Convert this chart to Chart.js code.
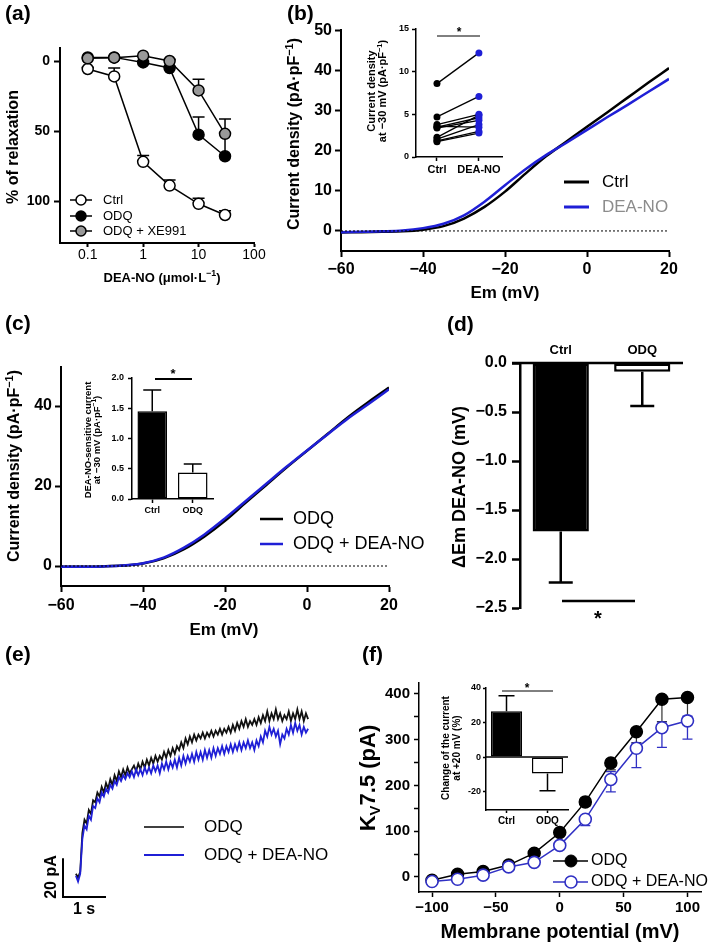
<!DOCTYPE html>
<html>
<head>
<meta charset="utf-8">
<script src="https://cdn.jsdelivr.net/npm/chart.js@4.4.0/dist/chart.umd.min.js"></script>
<style>
  html, body { margin: 0; padding: 0; background: #fff; }
  #wrap { position: relative; width: 709px; height: 946px; overflow: hidden; }
  #wrap canvas { position: absolute; left: 0; top: 0; }
</style>
</head>
<body>
<div id="wrap"></div>
<script>
// (a) concentration-response
const concA = [0.1, 0.3, 1, 3, 10, 30];
const relaxCtrl = [5.7, 11, 72, 89, 102, 110];
const relaxCtrlSem = [1, 6, 4.5, 4, 4, 3];
const relaxOdq = [-2.5, -2.6, 1, 5, 52.6, 68];
const relaxOdqSem = [0, 0, 1, 1, 12.6, 16];
const relaxXe = [-1.9, -2.4, -3.8, 0, 21, 52];
const relaxXeSem = [0, 0, 0, 1, 8, 10.5];

// (b) I-V, ctrl vs DEA-NO
const emSteps = [-60, -55, -50, -45, -40, -35, -30, -25, -20, -15, -10, -5, 0, 5, 10, 15, 20];
const ivCtrl = [-0.4, -0.3, -0.2, -0.1, 0.3, 1.2, 3.1, 6.0, 9.8, 14.3, 18.6, 22.3, 26.0, 29.6, 33.3, 37.0, 40.6];
const ivDea = [-0.3, -0.2, -0.1, 0.1, 0.7, 1.8, 3.9, 7.3, 11.4, 15.4, 18.9, 22.0, 25.2, 28.4, 31.5, 34.7, 37.9];
const pairGroups = ['Ctrl', 'DEA-NO'];
const pairCtrl = [8.6, 4.7, 3.8, 3.6, 3.5, 3.4, 2.3, 2.1, 1.9, 1.8];
const pairDea = [12.2, 7.1, 5.0, 3.5, 4.6, 4.3, 4.9, 3.8, 3.0, 2.8];

// (c) I-V with ODQ
const ivOdq = [-0.2, -0.2, -0.1, 0.1, 0.6, 1.9, 4.2, 7.4, 11.3, 15.8, 20.2, 24.6, 28.8, 33.0, 37.2, 41.0, 44.6];
const ivOdqDea = [-0.2, -0.2, -0.1, 0.1, 0.7, 2.1, 4.6, 7.9, 11.9, 16.2, 20.5, 24.8, 28.9, 32.9, 36.9, 40.5, 44.2];
const groupsC = ['Ctrl', 'ODQ'];
const noSensitive = [1.45, 0.44];
const noSensitiveSem = [0.35, 0.14];

// (d) membrane potential change
const groupsD = ['Ctrl', 'ODQ'];
const dEm = [-1.72, -0.09];
const dEmSem = [0.52, 0.35];

// (e) current traces (s, pA)
const traceT = [0.30,0.35,0.40,0.45,0.50,0.55,0.60,0.65,0.70,0.75,0.80,0.85,0.90,0.95,1.00,1.05,1.10,1.15,1.20,1.25,
  1.30,1.35,1.40,1.45,1.50,1.55,1.60,1.65,1.70,1.75,1.80,1.85,1.90,1.95,2.00,2.05,2.10,2.15,2.20,2.25,
  2.30,2.35,2.40,2.45,2.50,2.55,2.60,2.65,2.70,2.75,2.80,2.85,2.90,2.95,3.00,3.05,3.10,3.15,3.20,3.25,
  3.30,3.35,3.40,3.45,3.50,3.55,3.60,3.65,3.70,3.75,3.80,3.85,3.90,3.95,4.00,4.05,4.10,4.15,4.20,4.25,
  4.30,4.35,4.40,4.45,4.50,4.55,4.60,4.65,4.70,4.75,4.80,4.85,4.90,4.95,5.00,5.05,5.10,5.15,5.20,5.25,
  5.30,5.35,5.40,5.45,5.50,5.55,5.60,5.65,5.70];
const traceOdq = [12,10,13,33,40,38,45,43,50,49, 54,52,57,54,59,56,61,58,63,60,
  65,62,66,63,67,64,66,68,65,69, 66,70,67,71,68,72,69,73,70,73,
  71,75,72,76,73,77,74,78,76,80, 77,82,79,83,80,84,81,84,82,85,
  82,85,83,86,83,86,84,87,84,87, 85,88,85,89,86,90,87,91,88,92,
  88,91,89,92,89,93,90,94,91,96, 91,95,92,97,92,95,91,94,92,96,
  91,95,92,97,92,96,91,95,92];
const traceOdqDea = [11,8,12,30,37,35,42,40,47,46, 51,49,54,52,56,54,58,56,60,58,
  62,60,63,61,64,62,65,62,66,63, 66,63,67,64,67,64,68,65,68,64,
  69,66,70,66,70,67,71,67,72,68, 73,69,73,70,74,70,75,71,75,71,
  76,72,76,72,77,73,77,74,78,74, 78,75,79,75,79,76,80,76,80,77,
  81,77,80,76,81,78,83,80,86,83, 88,84,87,83,86,79,84,82,87,84,
  89,85,90,86,89,84,88,85,87];

// (f) Kv7.5 I-V
const vmF = [-100, -80, -60, -40, -20, 0, 20, 40, 60, 80, 100];
const kvOdq = [-7, 6, 12, 26, 52, 97, 164, 249, 317, 388, 392];
const kvOdqSemLo = [4, 4, 4, 4, 5, 6, 10, 15, 24, 49, 46];
const kvDea = [-10, -5, 4, 22, 32, 69, 126, 213, 281, 326, 341];
const kvDeaSemHi = [4, 4, 4, 4, 4, 6, 8, 17, 12, 13, 10];
const kvDeaSemLo = [4, 4, 4, 4, 4, 6, 14, 27, 42, 43, 40];
const groupsF = ['Ctrl', 'ODQ'];
const changeF = [26.5, -9.5];
const changeFSemHi = [9, 0];
const changeFSemLo = [0, 10];

const W = 709, H = 946;
const FONT = '"Liberation Sans", Arial, Helvetica, sans-serif';
const BLUE = '#1f1fd6';
const BLUE_F = '#3030c4';
Chart.defaults.font.family = FONT;
Chart.defaults.color = '#000';
Chart.defaults.animation = false;
Chart.defaults.events = [];
Chart.defaults.plugins.legend.display = false;
Chart.defaults.plugins.tooltip.enabled = false;

const wrap = document.getElementById('wrap');
const minus = v => (typeof v === 'number' && v < 0 ? '\u2212' + Math.abs(v) : String(v));

// chart area in page px -> layout padding (every canvas covers the page)
function box(l, t, r, b, yw, xh) {
  return { left: l - yw, top: t, right: W - r, bottom: H - b - xh };
}

function axis(o) {
  return {
    type: o.type || 'linear',
    min: o.min, max: o.max, reverse: !!o.reverse,
    afterFit: s => { if (s.isHorizontal()) s.height = o.size; else s.width = o.size; },
    afterBuildTicks: o.at ? s => { s.ticks = o.at.map(v => ({ value: v })); } : undefined,
    ticks: {
      autoSkip: false, maxRotation: 0, color: '#000', padding: o.pad ?? 3,
      font: { size: o.font, weight: o.weight || 'bold' },
      callback: o.fmt || (v => minus(v))
    },
    grid: { drawOnChartArea: false, drawTicks: true, tickLength: o.tick ?? 6, tickWidth: o.lw ?? 2, tickColor: '#000', offset: false },
    border: { display: true, color: '#000', width: o.lw ?? 2 }
  };
}
const catLabel = function (v) { return this.getLabelForValue(v); };

function drawErrors(chart, opts) {
  const ctx = chart.ctx, y = chart.scales.y;
  chart.data.datasets.forEach((ds, i) => {
    if (!ds.errLo && !ds.errHi) return;
    const meta = chart.getDatasetMeta(i);
    ctx.save();
    ctx.strokeStyle = ds.errColor || '#000';
    ctx.lineWidth = ds.errWidth || 1.5;
    const cap = ds.errCap || opts.cap || 5;
    meta.data.forEach((el, j) => {
      const v = ds.data[j], px = el.x, py = y.getPixelForValue(v);
      [[ds.errHi, 1], [ds.errLo, -1]].forEach(([arr, sgn]) => {
        if (!arr || !arr[j]) return;
        const ey = y.getPixelForValue(v + sgn * arr[j]);
        ctx.beginPath();
        ctx.moveTo(px, py); ctx.lineTo(px, ey);
        ctx.moveTo(px - cap, ey); ctx.lineTo(px + cap, ey);
        ctx.stroke();
      });
    });
    ctx.restore();
  });
}
const errorBars = {
  id: 'errorBars',
  beforeDatasetsDraw(chart, args, opts) { if (!opts.after) drawErrors(chart, opts); },
  afterDatasetsDraw(chart, args, opts) { if (opts.after) drawErrors(chart, opts); }
};

// text with optional sup/sub parts: parts = ['abc', ['-1', 'sup']]
function txt(ctx, parts, x, y, size, o = {}) {
  const segs = (Array.isArray(parts) ? parts : [parts]).map(p => Array.isArray(p) ? { t: p[0], k: p[1] } : { t: p });
  const wt = o.bold === false ? '' : 'bold ';
  let total = 0;
  segs.forEach(s => {
    s.fs = s.k ? size * 0.68 : size;
    ctx.font = `${wt}${s.fs}px ${FONT}`;
    s.w = ctx.measureText(s.t).width;
    total += s.w;
  });
  ctx.save();
  ctx.translate(x, y);
  if (o.rot) ctx.rotate(-Math.PI / 2);
  ctx.fillStyle = o.color || '#000';
  ctx.textBaseline = 'middle';
  ctx.textAlign = 'left';
  let cx = o.align === 'left' ? 0 : -total / 2;
  segs.forEach(s => {
    ctx.font = `${wt}${s.fs}px ${FONT}`;
    const dy = s.k === 'sup' ? -size * 0.32 : s.k === 'sub' ? size * 0.3 : 0;
    ctx.fillText(s.t, cx, dy);
    cx += s.w;
  });
  ctx.restore();
}
function seg(ctx, x0, y0, x1, y1, lw, color, dash) {
  ctx.save();
  ctx.strokeStyle = color || '#000';
  ctx.lineWidth = lw;
  if (dash) ctx.setLineDash(dash);
  ctx.beginPath(); ctx.moveTo(x0, y0); ctx.lineTo(x1, y1); ctx.stroke();
  ctx.restore();
}
function dot(ctx, x, y, r, fill, stroke, lw) {
  ctx.save();
  ctx.beginPath(); ctx.arc(x, y, r, 0, Math.PI * 2);
  ctx.fillStyle = fill; ctx.fill();
  ctx.lineWidth = lw; ctx.strokeStyle = stroke; ctx.stroke();
  ctx.restore();
}
const pA_pF = ['(pA\u00b7pF', ['\u22121', 'sup'], ')'];

function make(cfg, decor) {
  const c = document.createElement('canvas');
  c.width = W; c.height = H;
  wrap.appendChild(c);
  cfg.options.responsive = false;
  cfg.plugins = [errorBars, { id: 'decor', afterDraw: ch => decor && decor(ch.ctx, ch) }];
  return new Chart(c, cfg);
}

// ---------- (a) ----------
const pointA = { borderColor: '#000', borderWidth: 1.5, pointBorderColor: '#000', pointBorderWidth: 1.5, pointRadius: 5.5 };
make({
  type: 'line',
  data: {
    labels: concA,
    datasets: [
      { ...pointA, label: 'Ctrl', data: relaxCtrl, errLo: relaxCtrlSem, pointBackgroundColor: '#fff', order: 3 },
      { ...pointA, label: 'ODQ', data: relaxOdq, errLo: relaxOdqSem, pointBackgroundColor: '#000', order: 2 },
      { ...pointA, label: 'ODQ + XE991', data: relaxXe, errLo: relaxXeSem, pointBackgroundColor: '#999', order: 1 }
    ]
  },
  options: {
    layout: { padding: box(60, 48, 254, 243, 50, 30) },
    scales: {
      x: axis({ type: 'logarithmic', min: 0.0316, max: 100, at: [0.1, 1, 10, 100], size: 30, font: 14, weight: 'normal', tick: 4, pad: 0, fmt: v => String(v) }),
      y: axis({ min: -9.3, max: 130, reverse: true, at: [0, 50, 100], size: 50, font: 14, tick: 6, pad: 4 })
    },
    plugins: { errorBars: { cap: 6 } }
  }
}, (ctx, ch) => {
  txt(ctx, '(a)', 5, 14, 21, { align: 'left' });
  txt(ctx, '% of relaxation', 14, 147, 16, { rot: true });
  txt(ctx, ['DEA-NO (\u03bcmol\u00b7L', ['\u22121', 'sup'], ')'], 162, 278, 13);
  [200, 216, 231].forEach((y, i) => {
    const ds = ch.data.datasets[i];
    seg(ctx, 70, y, 92, y, 1.5);
    dot(ctx, 81, y, 5, ds.pointBackgroundColor, '#000', 1.5);
    txt(ctx, ds.label, 103, y, 13, { bold: false, align: 'left' });
  });
});

// ---------- (b) ----------
make({
  type: 'line',
  data: {
    labels: emSteps,
    datasets: [
      { label: 'DEA-NO', data: ivDea, borderColor: BLUE, borderWidth: 2.5, pointRadius: 0, cubicInterpolationMode: 'monotone', order: 1 },
      { label: 'Ctrl', data: ivCtrl, borderColor: '#000', borderWidth: 2.5, pointRadius: 0, cubicInterpolationMode: 'monotone', order: 2 }
    ]
  },
  options: {
    layout: { padding: box(341, 30, 669, 251, 45, 30) },
    scales: {
      x: axis({ min: -60, max: 20, at: [-60, -40, -20, 0, 20], size: 30, font: 16, tick: 6, pad: 3 }),
      y: axis({ min: -5, max: 50.1, at: [0, 10, 20, 30, 40, 50], size: 45, font: 16, tick: 6, pad: 3 })
    }
  }
}, (ctx, ch) => {
  const y0 = ch.scales.y.getPixelForValue(0);
  seg(ctx, ch.chartArea.left, y0, ch.chartArea.right, y0, 1, '#000', [2, 2]);
  txt(ctx, '(b)', 287, 14, 21, { align: 'left' });
  txt(ctx, ['Current density ', ...pA_pF], 295, 134, 16, { rot: true });
  txt(ctx, 'Em (mV)', 505, 293, 17);
  seg(ctx, 564, 182, 589, 182, 3, '#000');
  txt(ctx, 'Ctrl', 602, 182, 17, { bold: false, align: 'left' });
  seg(ctx, 564, 207, 589, 207, 3, BLUE);
  txt(ctx, 'DEA-NO', 602, 207, 17, { bold: false, align: 'left', color: '#8c8c8c' });
});

// (b) inset: paired cells
make({
  type: 'line',
  data: {
    labels: [0, 1],
    datasets: pairCtrl.map((c, i) => ({
      data: [c, pairDea[i]], borderColor: '#000', borderWidth: 1.3, pointRadius: 3.5,
      pointBackgroundColor: ['#000', BLUE], pointBorderColor: ['#000', BLUE], pointBorderWidth: 0
    }))
  },
  options: {
    layout: { padding: box(416, 29, 502, 157, 30, 20) },
    scales: {
      x: axis({ min: -0.5, max: 1.55, at: [0, 1], size: 20, font: 11, tick: 4, pad: 2, lw: 1.5, fmt: v => pairGroups[v] }),
      y: axis({ min: 0, max: 15, at: [0, 5, 10, 15], size: 30, font: 9, tick: 4, pad: 3, lw: 1.5 })
    }
  }
}, ctx => {
  txt(ctx, 'Current density', 372, 91, 11, { rot: true });
  txt(ctx, ['at \u221230 mV ', ...pA_pF], 383, 91, 11, { rot: true });
  seg(ctx, 437, 36, 480, 36, 1);
  txt(ctx, '*', 459, 33, 12);
});

// ---------- (c) ----------
make({
  type: 'line',
  data: {
    labels: emSteps,
    datasets: [
      { label: 'ODQ + DEA-NO', data: ivOdqDea, borderColor: BLUE, borderWidth: 2.5, pointRadius: 0, cubicInterpolationMode: 'monotone', order: 1 },
      { label: 'ODQ', data: ivOdq, borderColor: '#000', borderWidth: 2.5, pointRadius: 0, cubicInterpolationMode: 'monotone', order: 2 }
    ]
  },
  options: {
    layout: { padding: box(61, 367, 389, 586, 45, 30) },
    scales: {
      x: axis({ min: -60, max: 20, at: [-60, -40, -20, 0, 20], size: 30, font: 16, tick: 6, pad: 4, fmt: v => (v === -20 ? '-20' : minus(v)) }),
      y: axis({ min: -5, max: 49.75, at: [0, 20, 40], size: 45, font: 16, tick: 6, pad: 3 })
    }
  }
}, (ctx, ch) => {
  const y0 = ch.scales.y.getPixelForValue(0);
  seg(ctx, ch.chartArea.left, y0, ch.chartArea.right, y0, 1, '#000', [2, 2]);
  txt(ctx, '(c)', 5, 324, 21, { align: 'left' });
  txt(ctx, ['Current density ', ...pA_pF], 15, 466, 16, { rot: true });
  txt(ctx, 'Em (mV)', 224, 630, 17);
  seg(ctx, 260, 519, 283, 519, 2.5, '#000');
  txt(ctx, 'ODQ', 293, 519, 18, { bold: false, align: 'left' });
  seg(ctx, 260, 544, 283, 544, 2.5, BLUE);
  txt(ctx, 'ODQ + DEA-NO', 293, 544, 18, { bold: false, align: 'left' });
});

// (c) inset: DEA-NO-sensitive current
make({
  type: 'bar',
  data: {
    labels: groupsC,
    datasets: [{ data: noSensitive, errHi: noSensitiveSem, backgroundColor: ['#000', '#fff'], borderColor: '#000', borderWidth: 1.5, borderSkipped: false, barPercentage: 0.73, categoryPercentage: 1 }]
  },
  options: {
    layout: { padding: box(132, 378, 213, 499, 30, 18) },
    scales: {
      x: axis({ type: 'category', size: 18, font: 9, tick: 4, pad: 2, lw: 1.5, fmt: catLabel }),
      y: axis({ min: 0, max: 2, at: [0, 0.5, 1, 1.5, 2], size: 30, font: 9, tick: 4, pad: 4, lw: 1.5, fmt: v => v.toFixed(1) })
    },
    plugins: { errorBars: { after: true, cap: 9 } }
  }
}, ctx => {
  txt(ctx, 'DEA-NO-sensitive current', 88, 440, 9.5, { rot: true });
  txt(ctx, ['at \u221230 mV ', ...pA_pF], 97, 440, 9.5, { rot: true });
  seg(ctx, 155, 379, 192, 379, 2);
  txt(ctx, '*', 173, 374, 13);
});

// ---------- (d) ----------
make({
  type: 'bar',
  data: {
    labels: groupsD,
    datasets: [{ data: dEm, errLo: dEmSem, errWidth: 2.5, backgroundColor: ['#000', '#fff'], borderColor: '#000', borderWidth: 2.5, borderSkipped: false, barPercentage: 0.69, categoryPercentage: 1 }]
  },
  options: {
    layout: { padding: box(520, 363, 683, 608, 60, 0) },
    scales: {
      x: { display: false },
      y: axis({ min: -2.5, max: 0, at: [0, -0.5, -1, -1.5, -2, -2.5], size: 60, font: 16, tick: 8, pad: 5, lw: 2.5, fmt: v => (v < 0 ? '\u2212' : '') + Math.abs(v).toFixed(1) })
    },
    plugins: { errorBars: { after: true, cap: 12 } }
  }
}, (ctx, ch) => {
  const y0 = ch.scales.y.getPixelForValue(0);
  seg(ctx, 512, y0, ch.chartArea.right, y0, 2.5);
  ch.data.labels.forEach((l, i) => txt(ctx, l, ch.scales.x.getPixelForValue(i), 350, 13));
  txt(ctx, '(d)', 447, 325, 21, { align: 'left' });
  txt(ctx, '\u0394Em DEA-NO (mV)', 460, 487, 18, { rot: true });
  seg(ctx, 562, 601, 635, 601, 2.5);
  txt(ctx, '*', 598, 619, 20);
});

// ---------- (e) ----------
make({
  type: 'line',
  data: {
    labels: traceT,
    datasets: [
      { label: 'ODQ + DEA-NO', data: traceOdqDea, borderColor: BLUE, borderWidth: 1.8, pointRadius: 0, order: 1 },
      { label: 'ODQ', data: traceOdq, borderColor: '#111', borderWidth: 1.8, pointRadius: 0, order: 2 }
    ]
  },
  options: {
    layout: { padding: box(63, 665, 321, 897, 0, 0) },
    scales: {
      x: { type: 'linear', display: false, min: 0, max: 6 },
      y: { display: false, min: 0, max: 120 }
    }
  }
}, (ctx, ch) => {
  const x = ch.scales.x, y = ch.scales.y;
  const bx = x.getPixelForValue(0), by = y.getPixelForValue(0);
  seg(ctx, bx, by, bx, y.getPixelForValue(20), 2);
  seg(ctx, bx - 1, by, x.getPixelForValue(1), by, 2);
  txt(ctx, '20 pA', 52, 877, 16, { rot: true });
  txt(ctx, '1 s', 84, 910, 16);
  txt(ctx, '(e)', 5, 655, 21, { align: 'left' });
  seg(ctx, 144, 827, 184, 827, 1.5, '#000');
  txt(ctx, 'ODQ', 204, 827, 17, { bold: false, align: 'left' });
  seg(ctx, 144, 855, 184, 855, 2, BLUE);
  txt(ctx, 'ODQ + DEA-NO', 204, 855, 17, { bold: false, align: 'left' });
});

// ---------- (f) ----------
make({
  type: 'line',
  data: {
    labels: vmF,
    datasets: [
      { label: 'ODQ + DEA-NO', data: kvDea, errHi: kvDeaSemHi, errLo: kvDeaSemLo, errColor: BLUE_F, errWidth: 1.3,
        borderColor: BLUE_F, borderWidth: 1.5, pointRadius: 6, pointBackgroundColor: '#fff', pointBorderColor: BLUE_F, pointBorderWidth: 1.6, order: 1 },
      { label: 'ODQ', data: kvOdq, errLo: kvOdqSemLo, errColor: '#333', errWidth: 1.2,
        borderColor: '#000', borderWidth: 1.5, pointRadius: 6, pointBackgroundColor: '#000', pointBorderColor: '#000', order: 2 }
    ]
  },
  options: {
    layout: { padding: box(419, 683, 702, 892, 45, 30) },
    scales: {
      x: axis({ min: -110.2, max: 110.9, at: [-100, -50, 0, 50, 100], size: 30, font: 15, tick: 5, pad: 2, lw: 1.5 }),
      y: axis({ min: -32.8, max: 423.6, at: [0, 50, 100, 150, 200, 250, 300, 350, 400], size: 45, font: 15, tick: 5, pad: 4, lw: 1.5, fmt: v => (v % 100 === 0 ? String(v) : '') })
    },
    plugins: { errorBars: { cap: 5 } }
  }
}, ctx => {
  txt(ctx, '(f)', 362, 655, 21, { align: 'left' });
  txt(ctx, ['K', ['V', 'sub'], '7.5 (pA)'], 369, 778, 22, { rot: true });
  txt(ctx, 'Membrane potential (mV)', 560, 932, 20);
  seg(ctx, 553, 861, 588, 861, 1.5, '#000');
  dot(ctx, 571, 861, 6, '#000', '#000', 1);
  txt(ctx, 'ODQ', 591, 861, 16, { bold: false, align: 'left' });
  seg(ctx, 553, 882, 588, 882, 1.5, BLUE_F);
  dot(ctx, 571, 882, 6, '#fff', BLUE_F, 1.6);
  txt(ctx, 'ODQ + DEA-NO', 591, 882, 16, { bold: false, align: 'left' });
});

// (f) inset: change of current at +20 mV
make({
  type: 'bar',
  data: {
    labels: groupsF,
    datasets: [{ data: changeF, errHi: changeFSemHi, errLo: changeFSemLo, backgroundColor: ['#000', '#fff'], borderColor: '#000', borderWidth: 1.5, borderSkipped: false, barPercentage: 0.76, categoryPercentage: 1 }]
  },
  options: {
    layout: { padding: box(486, 688, 568, 810, 22, 16) },
    scales: {
      x: axis({ type: 'category', size: 16, font: 10, tick: 3, pad: 2, lw: 1.5, fmt: catLabel }),
      y: axis({ min: -30.7, max: 40, at: [-20, 0, 20, 40], size: 22, font: 9, tick: 3, pad: 2, lw: 1.5, fmt: v => String(v) })
    },
    plugins: { errorBars: { after: true, cap: 8 } }
  }
}, (ctx, ch) => {
  const y0 = ch.scales.y.getPixelForValue(0);
  seg(ctx, ch.chartArea.left, y0, ch.chartArea.right, y0, 1.5);
  txt(ctx, 'Change of the current', 446, 748, 10, { rot: true });
  txt(ctx, 'at +20 mV (%)', 457, 748, 10, { rot: true });
  seg(ctx, 502, 691, 553, 691, 1);
  txt(ctx, '*', 527, 689, 12);
});
</script>
</body>
</html>
